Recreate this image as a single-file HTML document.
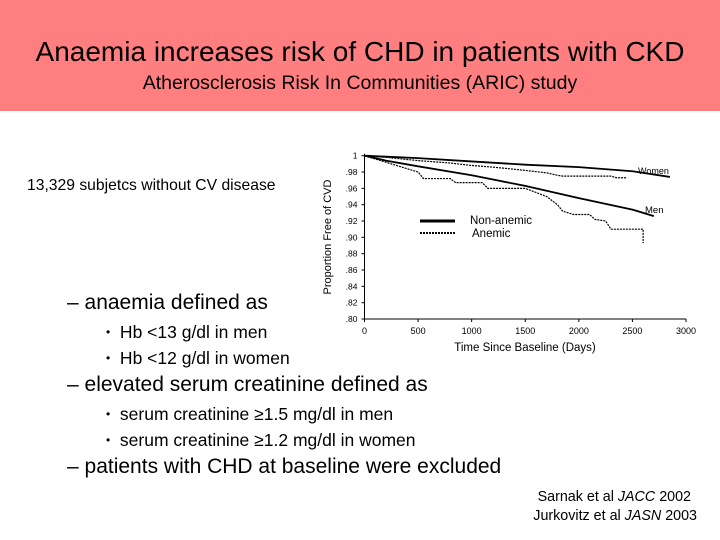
<!DOCTYPE html>
<html><head><meta charset="utf-8">
<style>
body{margin:0;width:720px;height:540px;background:#fff;position:relative;overflow:hidden;font-family:"Liberation Sans",Arial,sans-serif;color:#000}
.hdr{position:absolute;left:0;top:0;width:720px;height:111px;background:#ff7f80}
.t{position:absolute;white-space:nowrap}
.b{font-size:12px;vertical-align:2px}
</style></head><body>
<div class="hdr"></div>
<div class="t" style="left:0;width:720px;text-align:center;top:36px;font-size:28px">Anaemia increases risk of CHD in patients with CKD</div>
<div class="t" style="left:0;width:720px;text-align:center;top:72px;font-size:19.5px">Atherosclerosis Risk In Communities (ARIC) study</div>
<div class="t" style="left:27px;top:177px;font-size:15.7px">13,329 subjetcs without CV disease</div>
<div class="t" style="left:67px;top:291px;font-size:21px">– anaemia defined as</div>
<div class="t" style="left:106px;top:322px;font-size:17.5px"><span class="b">•</span>&nbsp; Hb &lt;13 g/dl in men</div>
<div class="t" style="left:106px;top:348px;font-size:17.5px"><span class="b">•</span>&nbsp; Hb &lt;12 g/dl in women</div>
<div class="t" style="left:67px;top:373px;font-size:21px">– elevated serum creatinine defined as</div>
<div class="t" style="left:106px;top:404px;font-size:17.5px"><span class="b">•</span>&nbsp; serum creatinine ≥1.5 mg/dl in men</div>
<div class="t" style="left:106px;top:430px;font-size:17.5px"><span class="b">•</span>&nbsp; serum creatinine ≥1.2 mg/dl in women</div>
<div class="t" style="left:67px;top:455px;font-size:21px">– patients with CHD at baseline were excluded</div>
<div class="t" style="right:29px;top:489px;font-size:14.3px">Sarnak et al <i>JACC</i> 2002</div>
<div class="t" style="right:23px;top:508px;font-size:14.3px">Jurkovitz et al <i>JASN</i> 2003</div>
<svg id="chart" width="720" height="540" style="position:absolute;left:0;top:0" font-family="Liberation Sans, Arial, sans-serif"></svg>
<script>
const xTicks=[0,500,1000,1500,2000,2500,3000];
const yTicks=[1,0.98,0.96,0.94,0.92,0.90,0.88,0.86,0.84,0.82,0.80];
const yTickLabels=["1",".98",".96",".94",".92",".90",".88",".86",".84",".82",".80"];
const womenNonDays=[0,500,1000,1500,2000,2500,2850];
const womenNonVals=[1,0.997,0.993,0.989,0.986,0.981,0.974];
const womenAnDays=[0,200,500,800,1000,1200,1500,1700,1800,1850,2300,2350,2450];
const womenAnVals=[1,0.998,0.994,0.991,0.988,0.986,0.982,0.979,0.976,0.975,0.975,0.973,0.973];
const menNonDays=[0,200,500,1000,1500,2000,2500,2700];
const menNonVals=[1,0.994,0.987,0.976,0.963,0.948,0.934,0.926];
const menAnDays=[0,200,300,500,550,800,850,1100,1150,1500,1700,1800,1850,1950,2100,2150,2250,2300,2600,2600];
const menAnVals=[1,0.992,0.988,0.98,0.972,0.972,0.967,0.967,0.960,0.960,0.950,0.940,0.932,0.928,0.928,0.922,0.920,0.910,0.910,0.893];
const NS="http://www.w3.org/2000/svg";
const svg=document.getElementById('chart');
const X0=364.5,X1=686,Y0=155.7,Y1=319;
const sx=d=>X0+(d/3000)*(X1-X0);
const sy=v=>Y0+((1-v)/0.2)*(Y1-Y0);
function mk(tag,at){const e=document.createElementNS(NS,tag);for(const k in at)e.setAttribute(k,at[k]);svg.appendChild(e);return e;}
let ax=mk('path',{d:`M${X0} ${Y0-2}V${Y1}H${X1}`,stroke:'#000','stroke-width':1,fill:'none'});


xTicks.forEach(t=>{
  mk('line',{x1:sx(t),x2:sx(t),y1:Y1,y2:Y1+3,stroke:'#000'});
  const tx=mk('text',{x:sx(t),y:Y1+15,'font-size':9,'text-anchor':'middle'});tx.textContent=t;
  
  
});
yTicks.forEach((t,i)=>{
  mk('line',{x1:X0-3,x2:X0,y1:sy(t),y2:sy(t),stroke:'#000'});
  const tx=mk('text',{x:X0-7,y:sy(t)+3,'font-size':8.5,'text-anchor':'end'});tx.textContent=yTickLabels[i];
  
  
});
let xt=mk('text',{x:525,y:351,'font-size':11.5,'text-anchor':'middle'});xt.textContent='Time Since Baseline (Days)';


let yt=mk('text',{x:0,y:0,'font-size':11,'text-anchor':'middle',transform:`translate(331,237) rotate(-90)`});yt.textContent='Proportion Free of CVD';


function series(days,vals,dash,name){
  const p=mk('polyline',{points:days.map((d,i)=>sx(d)+','+sy(vals[i])).join(' '),fill:'none',stroke:'#000','stroke-width':dash?1.2:1.8});
  if(dash)p.setAttribute('stroke-dasharray','2 1');
  
  
}
series(womenNonDays,womenNonVals,false,'women-non-anemic-line');
series(womenAnDays,womenAnVals,true,'women-anemic-line');
series(menNonDays,menNonVals,false,'men-non-anemic-line');
series(menAnDays,menAnVals,true,'men-anemic-line');
let wl=mk('text',{x:638,y:174,'font-size':9});wl.textContent='Women';


let ml=mk('text',{x:645,y:213,'font-size':9.5});ml.textContent='Men';


let l1=mk('line',{x1:420,x2:455,y1:221,y2:221,stroke:'#000','stroke-width':3});


let l2=mk('line',{x1:420,x2:455,y1:233,y2:233,stroke:'#000','stroke-width':2,'stroke-dasharray':'2 1'});


let lt1=mk('text',{x:470,y:224,'font-size':11.5});lt1.textContent='Non-anemic';


let lt2=mk('text',{x:472,y:237,'font-size':11.5});lt2.textContent='Anemic';


</script>
</body></html>
